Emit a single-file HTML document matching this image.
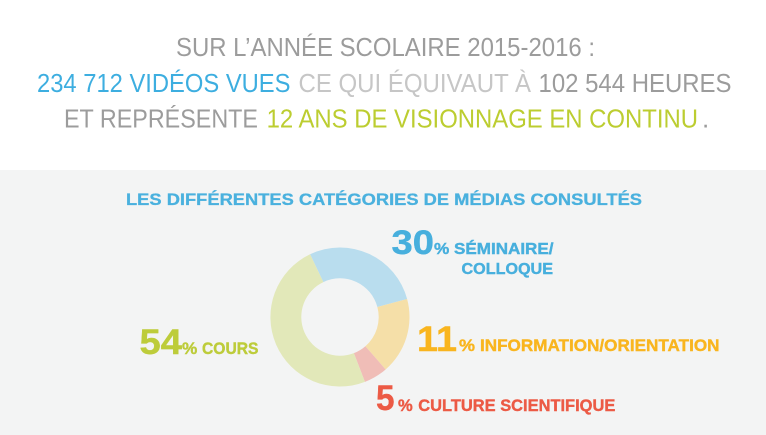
<!DOCTYPE html>
<html><head><meta charset="utf-8"><style>
html,body{margin:0;padding:0;background:#fff;}
svg{display:block;}
text{font-family:"Liberation Sans",sans-serif;}
.t{font-size:26px;}
</style></head><body>
<svg width="766" height="435" viewBox="0 0 766 435" xmlns="http://www.w3.org/2000/svg">
<rect x="0" y="0" width="766" height="170" fill="#ffffff"/>
<rect x="0" y="170" width="766" height="265" fill="#f3f4f4"/>

<text class="t" x="176" y="56" fill="#9c9c9c" textLength="419" lengthAdjust="spacingAndGlyphs">SUR L’ANNÉE SCOLAIRE 2015-2016 :</text>
<text class="t" x="37" y="92" fill="#3daee0" textLength="253.5" lengthAdjust="spacingAndGlyphs">234 712 VIDÉOS VUES</text>
<text class="t" x="298.5" y="92" fill="#c6c6c6" textLength="232.5" lengthAdjust="spacingAndGlyphs">CE QUI ÉQUIVAUT À</text>
<text class="t" x="538.5" y="92" fill="#9c9c9c" textLength="193" lengthAdjust="spacingAndGlyphs">102 544 HEURES</text>
<text class="t" x="64" y="127.5" fill="#9c9c9c" textLength="194" lengthAdjust="spacingAndGlyphs">ET REPRÉSENTE</text>
<text class="t" x="266.6" y="127.5" fill="#bccd30" textLength="431.4" lengthAdjust="spacingAndGlyphs">12 ANS DE VISIONNAGE EN CONTINU</text>
<text class="t" x="702" y="127.5" fill="#9c9c9c">.</text>

<text x="126" y="205" font-size="17" font-weight="bold" fill="#4ab1de" stroke="#4ab1de" stroke-width="0.3" textLength="516" lengthAdjust="spacingAndGlyphs">LES DIFFÉRENTES CATÉGORIES DE MÉDIAS CONSULTÉS</text>

<path d="M 310.08 254.27 A 69.5 69.5 0 0 1 407.13 299.01 L 377.38 306.98 A 38.7 38.7 0 0 0 323.34 282.07 Z" fill="#b9ddee"/>
<path d="M 407.13 299.01 A 69.5 69.5 0 0 1 385.60 369.45 L 365.39 346.21 A 38.7 38.7 0 0 0 377.38 306.98 Z" fill="#f5dfa8"/>
<path d="M 385.60 369.45 A 69.5 69.5 0 0 1 364.91 381.89 L 353.87 353.13 A 38.7 38.7 0 0 0 365.39 346.21 Z" fill="#f0bdb7"/>
<path d="M 364.91 381.89 A 69.5 69.5 0 0 1 310.08 254.27 L 323.34 282.07 A 38.7 38.7 0 0 0 353.87 353.13 Z" fill="#e2e8b9"/>

<g fill="#47afdd" stroke="#47afdd" stroke-width="0.4" font-weight="bold">
<text x="391.5" y="254" font-size="34" textLength="42.5" lengthAdjust="spacingAndGlyphs">30</text>
<text x="434" y="254" font-size="16" textLength="15.3" lengthAdjust="spacingAndGlyphs">%</text>
<text x="454" y="254" font-size="15.5" textLength="99.5" lengthAdjust="spacingAndGlyphs">SÉMINAIRE/</text>
<text x="461.5" y="274" font-size="15.5" textLength="91.5" lengthAdjust="spacingAndGlyphs">COLLOQUE</text>
</g>
<g fill="#f9b51e" stroke="#f9b51e" stroke-width="0.4" font-weight="bold">
<text x="417" y="351" font-size="35" textLength="40" lengthAdjust="spacingAndGlyphs">11</text>
<text x="459" y="351" font-size="16.5" textLength="16" lengthAdjust="spacingAndGlyphs">%</text>
<text x="480" y="351" font-size="16.5" textLength="239.5" lengthAdjust="spacingAndGlyphs">INFORMATION/ORIENTATION</text>
</g>
<g fill="#ec5a45" stroke="#ec5a45" stroke-width="0.4" font-weight="bold">
<text x="376" y="410" font-size="35" textLength="18.5" lengthAdjust="spacingAndGlyphs">5</text>
<text x="398" y="411" font-size="16.5" textLength="14.7" lengthAdjust="spacingAndGlyphs">%</text>
<text x="418.3" y="411" font-size="16.5" textLength="197" lengthAdjust="spacingAndGlyphs">CULTURE SCIENTIFIQUE</text>
</g>
<g fill="#bdcc3a" stroke="#bdcc3a" stroke-width="0.4" font-weight="bold">
<text x="139.5" y="354" font-size="35" textLength="42.5" lengthAdjust="spacingAndGlyphs">54</text>
<text x="182" y="354" font-size="16.5" textLength="15.3" lengthAdjust="spacingAndGlyphs">%</text>
<text x="202" y="354" font-size="16.5" textLength="56.5" lengthAdjust="spacingAndGlyphs">COURS</text>
</g>
</svg>
</body></html>
